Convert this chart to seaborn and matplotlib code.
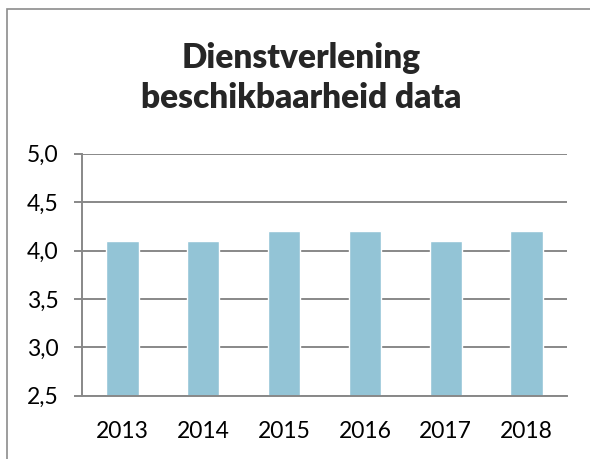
import matplotlib
matplotlib.use("Agg")
import matplotlib.pyplot as plt
import matplotlib.ticker as mticker
from matplotlib.patches import Rectangle
import pandas as pd
import seaborn as sns

years = ["2013", "2014", "2015", "2016", "2017", "2018"]
scores = [4.1, 4.1, 4.2, 4.2, 4.1, 4.2]
yticks = [2.5, 3.0, 3.5, 4.0, 4.5, 5.0]

sns.set_style("white")
plt.rcParams['font.family'] = ['Lato', 'DejaVu Sans']

df = pd.DataFrame({"jaar": years, "score": scores})

fig = plt.figure(figsize=(5.9, 4.59), dpi=100)
ax = fig.add_axes([0.139, 0.138, 0.822, 0.527])

sns.barplot(data=df, x="jaar", y="score", color="#93C4D6", width=0.4,
            saturation=1, ax=ax)

grid_col = "#888888"
ax.set_ylim(2.5, 5.0)
ax.set_xlim(-0.5, len(years) - 0.5)
ax.set_yticks(yticks)
ax.yaxis.set_major_formatter(mticker.FuncFormatter(lambda v, p: f"{v:.1f}".replace(".", ",")))
ax.grid(axis="y", color=grid_col, linewidth=1.4)
ax.set_axisbelow(True)
ax.set_xlabel("")
ax.set_ylabel("")

for s in ["top", "right"]:
    ax.spines[s].set_visible(False)
for s in ["left", "bottom"]:
    ax.spines[s].set_color(grid_col)
    ax.spines[s].set_linewidth(1.4)

# ticks between categories on x, labels centred
ax.set_xticks([i - 0.5 for i in range(len(years) + 1)], minor=True)
ax.tick_params(axis="x", which="major", length=0, labelsize=16.5, pad=18,
               labelcolor="black")
ax.tick_params(axis="x", which="minor", direction="out", length=6,
               color=grid_col, width=1.4)
ax.tick_params(axis="y", direction="out", length=6, color=grid_col,
               width=1.4, labelsize=16.5, pad=11, left=True, labelcolor="black")

fig.text(0.51, 0.83, "Dienstverlening\nbeschikbaarheid data", ha="center",
         va="center", fontsize=24, fontweight="heavy", linespacing=1.3)

fig.patches.append(Rectangle((7 / 590, -0.1), 1.2, 1 - 9 / 459 + 0.1,
                             transform=fig.transFigure, fill=False,
                             edgecolor="#8c8c8c", linewidth=1.2))

fig.savefig("out.png", dpi=100)
